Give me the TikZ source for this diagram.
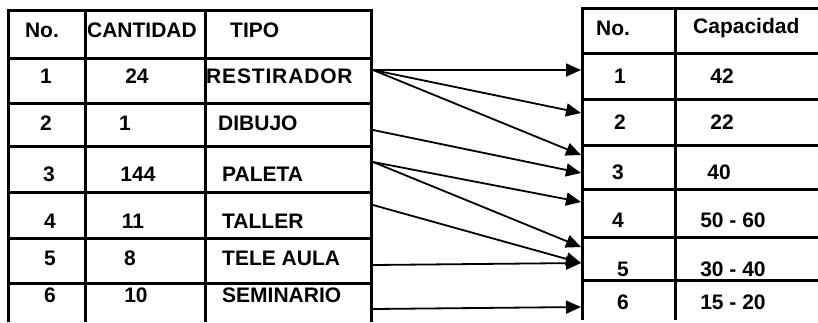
\documentclass[tikz,border=0pt]{standalone}
\usepackage{fontspec}
\setmainfont{Liberation Sans}
\usetikzlibrary{arrows.meta}
\usetikzlibrary{positioning}

\begin{document}
\begin{tikzpicture}[
            x=1pt,y=-1pt,
            every node/.style={inner sep=0pt,font=\bfseries\fontsize{21}{21}\selectfont},
            left cell/.style={anchor=west},
            wide cell/.style={anchor=west,font=\bfseries\fontsize{21}{21}\selectfont\addfontfeature{LetterSpace=4}},
            rule/.style={line width=3pt},
            link/.style={line width=1.8pt}
        ]
        \tikzset{>={Triangle[length=15pt,width=13pt]}}
        \useasboundingbox (0,0) rectangle (818,322);
        % left table
        \draw[rule] (8,322) -- (8,10) -- (371,10) -- (371,322);
        \draw[rule] (85,10) -- (85,322);
        \draw[rule] (205,10) -- (205,322);
        \draw[rule] (8,58) -- (371,58);
        \draw[rule] (8,103) -- (371,103);
        \draw[rule] (8,146) -- (371,146);
        \draw[rule] (8,192) -- (371,192);
        \draw[rule] (8,238) -- (371,238);
        \draw[rule] (8,283) -- (371,283);
        % right table
        \draw[rule] (582,320) -- (582,8) -- (818,8);
        \draw[rule] (675,8) -- (675,320);
        \draw[rule] (582,53) -- (818,53);
        \draw[rule] (582,99) -- (818,99);
        \draw[rule] (582,145) -- (818,145);
        \draw[rule] (582,189) -- (818,189);
        \draw[rule] (582,237) -- (818,237);
        \draw[rule] (582,280) -- (818,280);
        % left table texts
        \node (no head) at (42,30) {No.};
        \node (cantidad head) at (142,30) {CANTIDAD};
        \node[left cell] (tipo head) at (230,30) {TIPO};
        \node (no 1) at (46,76) {1};
        \node (cantidad 1) at (137,76) {24};
        \node[wide cell] (tipo 1) at (206,76) {RESTIRADOR};
        \node (no 2) at (46,123) {2};
        \node (cantidad 2) at (125,123) {1};
        \node[left cell] (tipo 2) at (218,123) {DIBUJO};
        \node (no 3) at (49,174) {3};
        \node (cantidad 3) at (138,174) {144};
        \node[left cell] (tipo 3) at (222,174) {PALETA};
        \node (no 4) at (50,221) {4};
        \node (cantidad 4) at (133,221) {11};
        \node[left cell] (tipo 4) at (222,221) {TALLER};
        \node (no 5) at (50,258) {5};
        \node (cantidad 5) at (130,258) {8};
        \node[left cell] (tipo 5) at (222,258) {TELE AULA};
        \node (no 6) at (50,295) {6};
        \node (cantidad 6) at (136,295) {10};
        \node[left cell] (tipo 6) at (222,295) {SEMINARIO};
        % right table texts
        \node (sala head) at (613,28) {No.};
        \node[left cell] (capacidad head) at (693,28) {Capacidad};
        \node (sala 1) at (620,76) {1};
        \node (capacidad 1) at (722,76) {42};
        \node (sala 2) at (620,122) {2};
        \node (capacidad 2) at (722,122) {22};
        \node (sala 3) at (618,172) {3};
        \node (capacidad 3) at (719,172) {40};
        \node (sala 4) at (618,220) {4};
        \node (capacidad 4) at (733,220) {50 - 60};
        \node (sala 5) at (623,269) {5};
        \node (capacidad 5) at (733,269) {30 - 40};
        \node (sala 6) at (623,302) {6};
        \node (capacidad 6) at (733,302) {15 - 20};
        % arrow ends
        \coordinate (restirador out) at (373,70);
        \coordinate (dibujo out) at (373,130);
        \coordinate (paleta out) at (373,162);
        \coordinate (taller out) at (373,205);
        \coordinate (tele aula out) at (373,265);
        \coordinate (seminario out) at (373,309);
        \coordinate (sala 1 in) at (581,70);
        \coordinate (sala 2 in) at (581,113);
        \coordinate (sala 3 in a) at (581,155);
        \coordinate (sala 3 in b) at (581,173);
        \coordinate (sala 4 in) at (581,202);
        \coordinate (sala 5 in a) at (581,247);
        \coordinate (sala 5 in b) at (581,263);
        \coordinate (sala 6 in) at (581,307);
        \draw[link,->] (restirador out) -- (sala 1 in);
        \draw[link,->] (restirador out) -- (sala 2 in);
        \draw[link,->] (restirador out) -- (sala 3 in a);
        \draw[link,->] (dibujo out) -- (sala 3 in b);
        \draw[link,->] (paleta out) -- (sala 4 in);
        \draw[link,->] (paleta out) -- (sala 5 in a);
        \draw[link,->] (taller out) -- (sala 5 in b);
        \draw[link,->] (tele aula out) -- (sala 5 in b);
        \draw[link,->] (seminario out) -- (sala 6 in);
    \end{tikzpicture}
\end{document}
